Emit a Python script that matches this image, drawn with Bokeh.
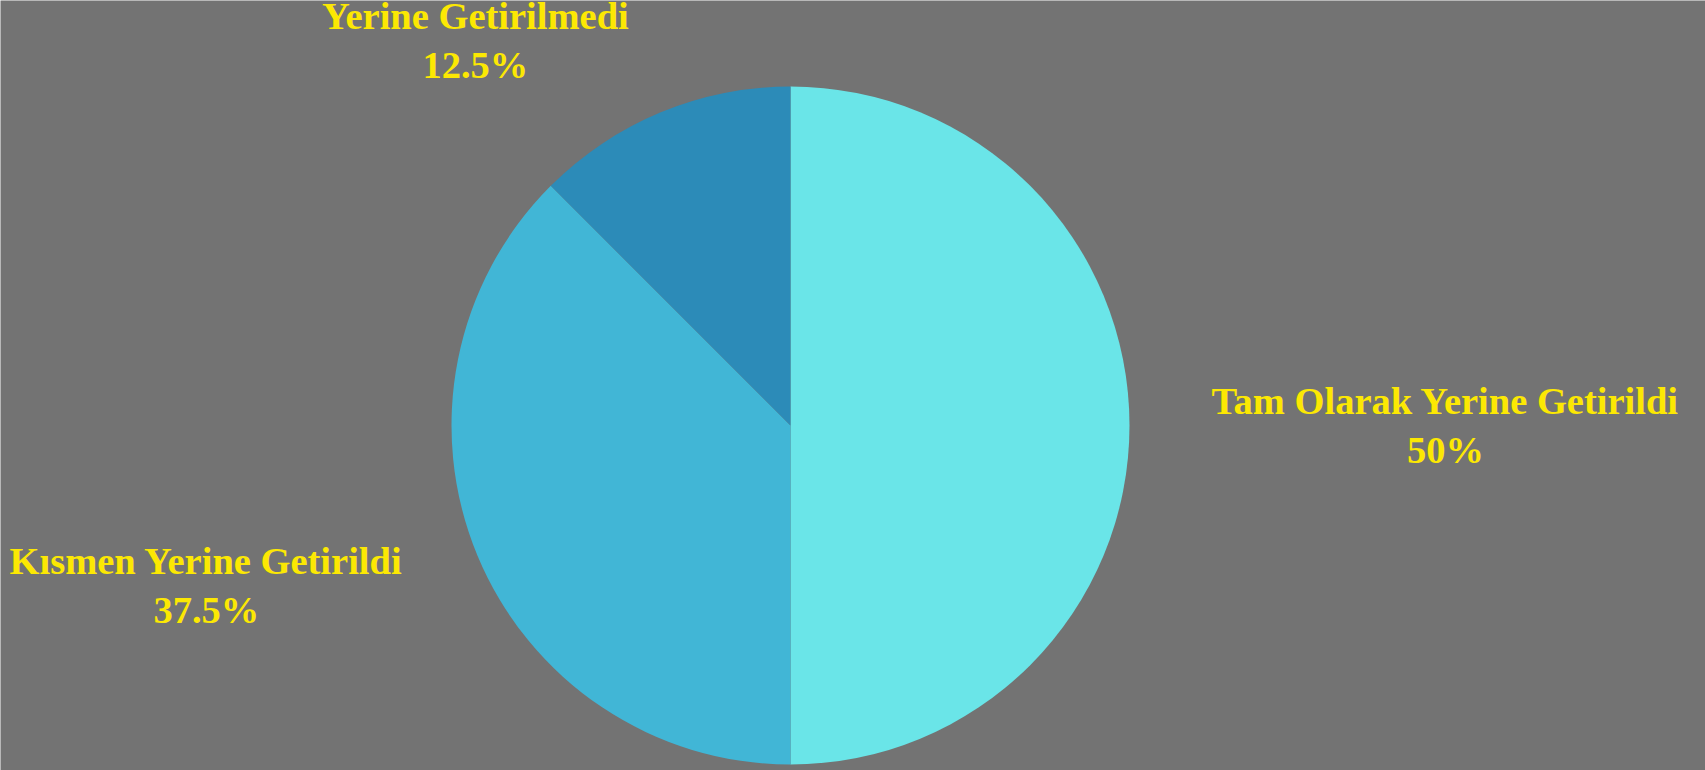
import math
from bokeh.plotting import figure
from bokeh.models import Range1d, ColumnDataSource
from bokeh.core.properties import value
from bokeh.embed import file_html
from bokeh.resources import INLINE

# ---- data ----
categories = ["Tam Olarak Yerine Getirildi", "Kısmen Yerine Getirildi", "Yerine Getirilmedi"]
values = [50, 37.5, 12.5]
pct_labels = ["50%", "37.5%", "12.5%"]
colors = ["#6ae5e8", "#41b6d6", "#2c8bb8"]

# ---- layout ----
W, H = 1705, 770
CX, CY = 790, 425          # pie centre in screen px (from top-left)
R = 339                    # pie radius in px
R_LABEL = 417              # label anchor radius
FONT = "Liberation Serif"
FS = 38.5
LINE_GAP = 49
BG = "#737373"
TXT = "#fce803"

total = sum(values)
cum = [0]
for v in values:
    cum.append(cum[-1] + v / total)

def ang(c):
    return math.pi / 2 - 2 * math.pi * c

start = [ang(cum[i + 1]) for i in range(len(values))]
end = [ang(cum[i]) for i in range(len(values))]
mid = [ang((cum[i] + cum[i + 1]) / 2) for i in range(len(values))]

wedges = ColumnDataSource(dict(x=[0] * len(values), y=[0] * len(values),
                               start=start, end=end, color=colors))

p = figure(width=W, height=H, output_backend="svg", toolbar_location=None,
           x_range=Range1d(-CX, W - CX), y_range=Range1d(-(H - CY), CY),
           min_border=0)
p.axis.visible = False
p.grid.visible = False
p.outline_line_color = None
p.background_fill_color = BG
p.border_fill_color = BG

p.wedge(x="x", y="y", radius=R, start_angle="start", end_angle="end",
        direction="anticlock", fill_color="color", line_color=None, source=wedges)

# labels: anchor at mid angle, text block on the outer side, lines centred
ax = [R_LABEL * math.cos(a) for a in mid]
ay = [R_LABEL * math.sin(a) for a in mid]

def text_em(s):
    w = {"T": .667, "a": .5, "m": .833, " ": .25, "O": .778, "l": .278, "r": .444,
         "k": .556, "Y": .722, "e": .444, "i": .278, "n": .556, "G": .778, "t": .333,
         "d": .556, "K": .778, "ı": .278, "s": .389}
    return sum(w.get(ch, .5) for ch in s)

half = [text_em(c) * FS / 2 for c in categories]
cxs = [x + (h if math.cos(a) > 1e-9 else -h) for x, a, h in zip(ax, mid, half)]

lab = ColumnDataSource(dict(x=cxs, y=ay, t=categories, pct=pct_labels))
p.text(x="x", y="y", text="t", source=lab, text_align="center", text_baseline="middle",
       y_offset=-LINE_GAP / 2, text_font=value(FONT), text_font_style="bold",
       text_font_size=f"{FS}px", text_color=TXT)
p.text(x="x", y="y", text="pct", source=lab, text_align="center", text_baseline="middle",
       y_offset=LINE_GAP / 2, text_font=value(FONT), text_font_style="bold",
       text_font_size=f"{FS}px", text_color=TXT)

open("out.html", "w").write(file_html(p, INLINE))
